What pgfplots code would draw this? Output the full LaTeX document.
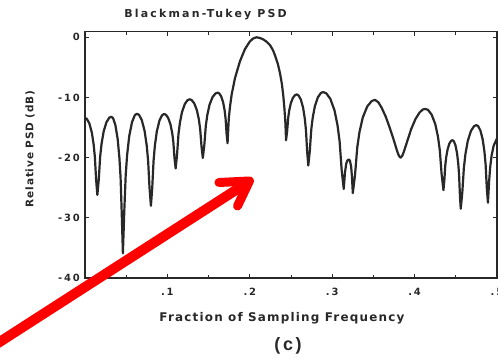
\documentclass[border=0pt]{standalone}
\usepackage{pgfplots}
\pgfplotsset{compat=1.18}
\usepackage{fontspec}
\setmainfont{DejaVu Sans}
\newfontfamily\fT{DejaVu Sans}[LetterSpace=20]
\newfontfamily\fX{DejaVu Sans}[LetterSpace=10]
\newfontfamily\fY{DejaVu Sans}[LetterSpace=8]
\newfontfamily\fK{DejaVu Sans}[LetterSpace=18]
\newfontfamily\fC{Liberation Sans}[LetterSpace=15]
\definecolor{ink}{RGB}{40,40,40}
\begin{document}
\begin{tikzpicture}
\path[use as bounding box] (-85bp,-81bp) rectangle (413bp,278bp);
\begin{scope}
\clip (-85bp,-81bp) rectangle (413bp,278bp);
\begin{axis}[
  scale only axis, width=412bp, height=246.3bp,
  xmin=0, xmax=0.5, ymin=-40, ymax=0.93,
  clip=false,
  axis line style={ink, line width=1.5bp},
  xtick={0.1,0.2,0.3,0.4,0.5}, xticklabels={.1,.2,.3,.4,.5},
  minor xtick={0.05,0.15,0.25,0.35,0.45},
  ytick={-40,-30,-20,-10,0}, yticklabels={-40,-30,-20,-10,0},
  tick align=inside, major tick length=4bp, minor tick length=3bp,
  tick style={ink, line width=1bp},
  xticklabel style={anchor=center, yshift=-14bp, inner sep=0pt, text=ink, font=\fK\bfseries\fontsize{10}{11}\selectfont},
  yticklabel style={anchor=east, xshift=-5bp, inner sep=0pt, text=ink, font=\fK\bfseries\fontsize{10}{11}\selectfont},
]
\addplot[ink, line width=2.2bp, line join=round] coordinates {
(0.0000,-13.40) (0.00225,-13.56) (0.00525,-14.30) (0.00825,-15.80) (0.0105,-17.82) (0.0120,-19.93) (0.0135,-23.70) (0.0150,-26.20)
(0.0167,-23.67) (0.0184,-19.83) (0.0201,-17.69) (0.02265,-15.64) (0.02605,-14.11) (0.02945,-13.36) (0.0320,-13.20)
(0.0341,-13.45) (0.0369,-14.60) (0.0397,-16.95) (0.0418,-20.10) (0.0432,-23.40) (0.0446,-29.30) (0.0460,-35.90)
(0.0477,-28.80) (0.0494,-22.90) (0.0511,-19.60) (0.05365,-16.45) (0.05705,-14.10) (0.06045,-12.95) (0.0630,-12.70)
(0.06555,-12.89) (0.06895,-13.77) (0.07235,-15.57) (0.0749,-17.98) (0.0766,-20.50) (0.0783,-25.02) (0.0800,-28.00)
(0.0816,-25.03) (0.0832,-20.53) (0.0848,-18.01) (0.0872,-15.61) (0.0904,-13.82) (0.0936,-12.94) (0.0960,-12.75)
(0.0981,-12.86) (0.1009,-13.38) (0.1037,-14.45) (0.1058,-15.87) (0.1072,-17.37) (0.1086,-20.04) (0.1100,-21.80)
(0.1117,-19.56) (0.1134,-16.17) (0.1151,-14.27) (0.11765,-12.46) (0.12105,-11.11) (0.12445,-10.44) (0.1270,-10.30)
(0.1294,-10.42) (0.1326,-10.98) (0.1358,-12.13) (0.1382,-13.66) (0.1398,-15.27) (0.1414,-18.15) (0.1430,-20.05)
(0.1448,-17.93) (0.1466,-14.73) (0.1484,-12.94) (0.1511,-11.23) (0.1547,-9.96) (0.1583,-9.34) (0.1610,-9.20)
(0.1628,-9.31) (0.1652,-9.79) (0.1676,-10.78) (0.1694,-12.10) (0.1706,-13.48) (0.1718,-15.96) (0.1730,-17.60)
(0.1745,-13.5) (0.1760,-11.5) (0.1780,-9.5) (0.1820,-6.8) (0.1880,-4.0) (0.1940,-2.0) (0.2000,-0.7) (0.2040,-0.2)
(0.2080,0) (0.2120,-0.1) (0.2164,-0.35) (0.2205,-0.75) (0.2245,-1.3) (0.2280,-2.1) (0.2306,-3.0) (0.2340,-4.4)
(0.2367,-6.0) (0.2390,-7.8) (0.2407,-9.8) (0.2420,-11.8) (0.2432,-14.2) (0.2440,-17.1)
(0.2453,-15.62) (0.2466,-13.38) (0.2479,-12.12) (0.24985,-10.93) (0.25245,-10.03) (0.25505,-9.60) (0.2570,-9.50)
(0.2591,-9.65) (0.2619,-10.33) (0.2647,-11.71) (0.2668,-13.57) (0.2682,-15.52) (0.2696,-19.00) (0.2710,-21.30)
(0.2728,-18.92) (0.2746,-15.32) (0.2764,-13.31) (0.2791,-11.39) (0.2827,-9.95) (0.2863,-9.25) (0.2890,-9.10)
(0.29275,-9.30) (0.29775,-10.23) (0.30275,-12.12) (0.3065,-14.65) (0.3090,-17.31) (0.3115,-22.06) (0.3140,-25.20)
(0.3155,-22.5) (0.3170,-21.0) (0.3185,-20.45) (0.3200,-20.3) (0.3215,-20.5) (0.3230,-21.5) (0.3240,-23.2) (0.3250,-25.9)
(0.3277,-22.88) (0.3304,-18.31) (0.3331,-15.75) (0.33715,-13.31) (0.34255,-11.49) (0.34795,-10.59) (0.3520,-10.40)
(0.3560,-10.8) (0.3600,-11.7) (0.3650,-13.2) (0.3700,-15.1) (0.3750,-17.2) (0.3790,-19.0) (0.3810,-19.7) (0.3830,-20.0)
(0.3850,-19.7) (0.3870,-19.0) (0.3910,-17.3) (0.3960,-15.2) (0.4010,-13.6) (0.4060,-12.5) (0.4100,-12.0) (0.4130,-11.9)
(0.4163,-12.07) (0.4207,-12.85) (0.4251,-14.43) (0.4284,-16.56) (0.4306,-18.79) (0.4328,-22.77) (0.4350,-25.40)
(0.4361,-23.78) (0.4372,-21.33) (0.4383,-19.96) (0.4400,-18.66) (0.44215,-17.68) (0.44435,-17.20) (0.4460,-17.10)
(0.4475,-17.24) (0.4495,-17.90) (0.4515,-19.24) (0.4530,-21.03) (0.4540,-22.91) (0.4550,-26.28) (0.4560,-28.50)
(0.4579,-25.79) (0.4598,-21.69) (0.4617,-19.40) (0.46455,-17.21) (0.46835,-15.57) (0.47215,-14.77) (0.4750,-14.60)
(0.4771,-14.76) (0.4799,-15.50) (0.4827,-17.02) (0.4848,-19.05) (0.4862,-21.18) (0.4876,-24.98) (0.4890,-27.50)
(0.4904,-24.0) (0.4918,-21.5) (0.4935,-19.6) (0.4960,-18.0) (0.5000,-16.8)
};
\node[text=ink, font=\fT\bfseries\fontsize{11}{13}\selectfont] at (axis description cs:0.2925,1.068) {Blackman-Tukey PSD};
\node[text=ink, rotate=90, font=\fY\bfseries\fontsize{10.5}{12}\selectfont] at (axis description cs:-0.1335,0.524) {Relative PSD (dB)};
\node[text=ink, font=\fX\bfseries\fontsize{12}{14}\selectfont] at (axis description cs:0.478,-0.1624) {Fraction of Sampling Frequency};
\node[text=ink, font=\fC\bfseries\fontsize{18}{20}\selectfont] at (axis description cs:0.4927,-0.276) {(c)};
\draw[red, line width=10bp, line cap=butt] (axis cs:-0.1274,-52.73) -- (axis cs:0.1954,-24.30);
\draw[red, line width=9bp, line cap=round, line join=round] (axis cs:0.1626,-24.13) -- (axis cs:0.1996,-23.88) -- (axis cs:0.1851,-28.04);
\end{axis}
\end{scope}
\end{tikzpicture}
\end{document}
